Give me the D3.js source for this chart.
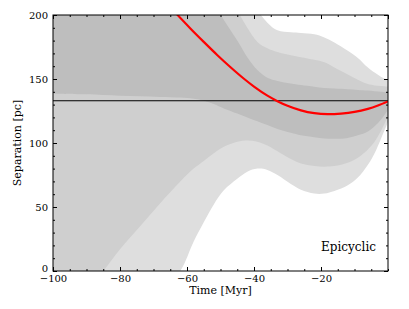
<!DOCTYPE html>
<html>
<head>
<meta charset="utf-8">
<script src="https://cdn.jsdelivr.net/npm/d3@7"></script>
<style>
  body { margin: 0; background: #fff; }
  svg text { font-family: "DejaVu Serif", serif; fill: #000; }
</style>
</head>
<body>
<div id="chart"></div>
<script>
// Time grid (Myr) shared by the confidence bands
const times = [-100, -90, -85, -80, -74, -68, -62, -58, -55, -52, -49, -45, -42, -39, -36, -33, -29, -26, -22, -19, -16, -12, -9, -6, -4, -2, 0];

// 1, 2 and 3 sigma bands of separation (pc)
const sig1Lo = [138.5, 138, 137.5, 137, 136.5, 136, 135.5, 134.5, 133, 130.5, 127, 123, 120, 117, 114, 111, 108, 106, 104.5, 103.5, 103.3, 104, 106, 109, 113, 118.5, 126];
const sig1Hi = [420, 380, 360, 340, 310, 280, 255, 238, 225, 210, 196, 180, 167, 157, 151, 148.5, 146.5, 145.3, 144, 143, 142.5, 142, 141.5, 141, 140.5, 140, 139.5];
const sig2Lo = [-50, -16, 0, 17, 35, 53, 70, 80, 86, 92, 97, 101, 102, 101, 98, 93.5, 87.5, 84, 82, 81.5, 82, 84.5, 88.5, 95, 101, 110, 120.5];
const sig2Hi = [500, 460, 440, 420, 390, 350, 310, 285, 265, 245, 227, 204, 190, 179, 174, 171, 168.5, 167, 165, 163, 159, 153.5, 149.5, 146, 145, 144.5, 144];
const sig3Lo = [-160, -110, -85, -62, -38, -17, 0, 23, 38, 52, 63, 72, 77.5, 80, 79, 75, 68, 63.5, 60.5, 60.5, 62.5, 67, 73, 83, 92, 104, 116.5];
const sig3Hi = [600, 560, 540, 510, 470, 420, 370, 330, 300, 280, 262, 232, 218, 204, 194, 188, 186.5, 186, 185, 182.5, 178.5, 172, 166.5, 159, 155, 151.5, 149];

// Epicyclic orbit
const orbitT = [-66, -63, -59, -55, -51, -47, -43, -40, -36, -33, -30, -26, -22, -18, -14, -10, -6, -3, 0];
const orbitSep = [209, 200.5, 189.5, 179, 168.8, 159.2, 150.2, 144.1, 137, 132.7, 129.1, 125.5, 123.3, 122.5, 123, 124.3, 126.7, 129.3, 132.5];

const refSep = 133;

const xTicks = [-100, -80, -60, -40, -20];
const yTicks = [0, 50, 100, 150, 200];

const margin = { top: 15, right: 21, bottom: 38, left: 53 };
const W = 409, H = 309;
const width = W - margin.left - margin.right;
const height = H - margin.top - margin.bottom;

const svg = d3.select("#chart").append("svg")
    .attr("width", W)
    .attr("height", H);

const g = svg.append("g")
    .attr("transform", `translate(${margin.left},${margin.top})`);

const x = d3.scaleLinear().domain([-100, 0]).range([0, width]);
const y = d3.scaleLinear().domain([0, 200]).range([height, 0]);

g.append("clipPath").attr("id", "plotclip")
  .append("rect").attr("width", width).attr("height", height);

const plot = g.append("g").attr("clip-path", "url(#plotclip)");

// Bands, widest first
const bands = [
    { lo: sig3Lo, hi: sig3Hi, color: "#dedede" },
    { lo: sig2Lo, hi: sig2Hi, color: "#cfcfcf" },
    { lo: sig1Lo, hi: sig1Hi, color: "#bebebe" }
];

bands.forEach(b => {
    const area = d3.area()
        .x((d, i) => x(times[i]))
        .y0((d, i) => y(b.lo[i]))
        .y1((d, i) => y(b.hi[i]))
        .curve(d3.curveCatmullRom.alpha(0.5));
    plot.append("path")
        .datum(times)
        .attr("fill", b.color)
        .attr("d", area);
});

// Reference separation line
plot.append("line")
    .attr("x1", 0).attr("x2", width)
    .attr("y1", y(refSep)).attr("y2", y(refSep))
    .attr("stroke", "#000").attr("stroke-width", 1.2);

// Orbit
const line = d3.line()
    .x((d, i) => x(orbitT[i]))
    .y((d, i) => y(orbitSep[i]))
    .curve(d3.curveCatmullRom.alpha(0.5));
plot.append("path")
    .datum(orbitT)
    .attr("fill", "none")
    .attr("stroke", "#ff0000")
    .attr("stroke-width", 2.2)
    .attr("d", line);

// Axes with inward ticks on all sides
const minorX = d3.range(-100, 0.1, 5);
const minorY = d3.range(0, 200.1, 10);

function styleAxis(sel) {
    sel.select(".domain").remove();
    sel.selectAll("line").attr("stroke", "#000");
    sel.selectAll("text").style("font-size", "10px");
}

g.append("g").attr("transform", `translate(0,${height})`)
  .call(d3.axisBottom(x).tickValues(minorX).tickSize(-2).tickFormat(""))
  .call(styleAxis);
g.append("g").attr("transform", `translate(0,${height})`)
  .call(d3.axisBottom(x).tickValues(xTicks).tickSize(-4).tickPadding(4)
        .tickFormat(d => d3.format("")(d).replace("-", "\u2212")))
  .call(styleAxis);

g.append("g")
  .call(d3.axisTop(x).tickValues(minorX).tickSize(-2).tickFormat(""))
  .call(styleAxis);
g.append("g")
  .call(d3.axisTop(x).tickValues(xTicks.concat([0])).tickSize(-4).tickFormat(""))
  .call(styleAxis);

g.append("g")
  .call(d3.axisLeft(y).tickValues(minorY).tickSize(-2).tickFormat(""))
  .call(styleAxis);
const yAxis = g.append("g")
  .call(d3.axisLeft(y).tickValues(yTicks).tickSize(-4).tickPadding(5))
  .call(styleAxis);
// lift the "0" label a little so it clears the x tick labels
yAxis.selectAll("text").filter(d => d === 0).attr("dy", "0.05em");

g.append("g").attr("transform", `translate(${width},0)`)
  .call(d3.axisRight(y).tickValues(minorY).tickSize(-2).tickFormat(""))
  .call(styleAxis);
g.append("g").attr("transform", `translate(${width},0)`)
  .call(d3.axisRight(y).tickValues(yTicks).tickSize(-4).tickFormat(""))
  .call(styleAxis);

// Frame
g.append("rect")
    .attr("x", 0).attr("y", 0)
    .attr("width", width).attr("height", height)
    .attr("fill", "none")
    .attr("stroke", "#000")
    .attr("stroke-width", 1);

// Labels
g.append("text")
    .attr("x", width / 2)
    .attr("y", height + 23)
    .attr("text-anchor", "middle")
    .style("font-size", "11px")
    .text("Time [Myr]");

g.append("text")
    .attr("transform", "rotate(-90)")
    .attr("x", -height / 2)
    .attr("y", -32)
    .attr("text-anchor", "middle")
    .style("font-size", "11px")
    .text("Separation [pc]");

g.append("text")
    .attr("x", width - 12)
    .attr("y", height - 20)
    .attr("text-anchor", "end")
    .style("font-size", "12px")
    .text("Epicyclic");
</script>
</body>
</html>
